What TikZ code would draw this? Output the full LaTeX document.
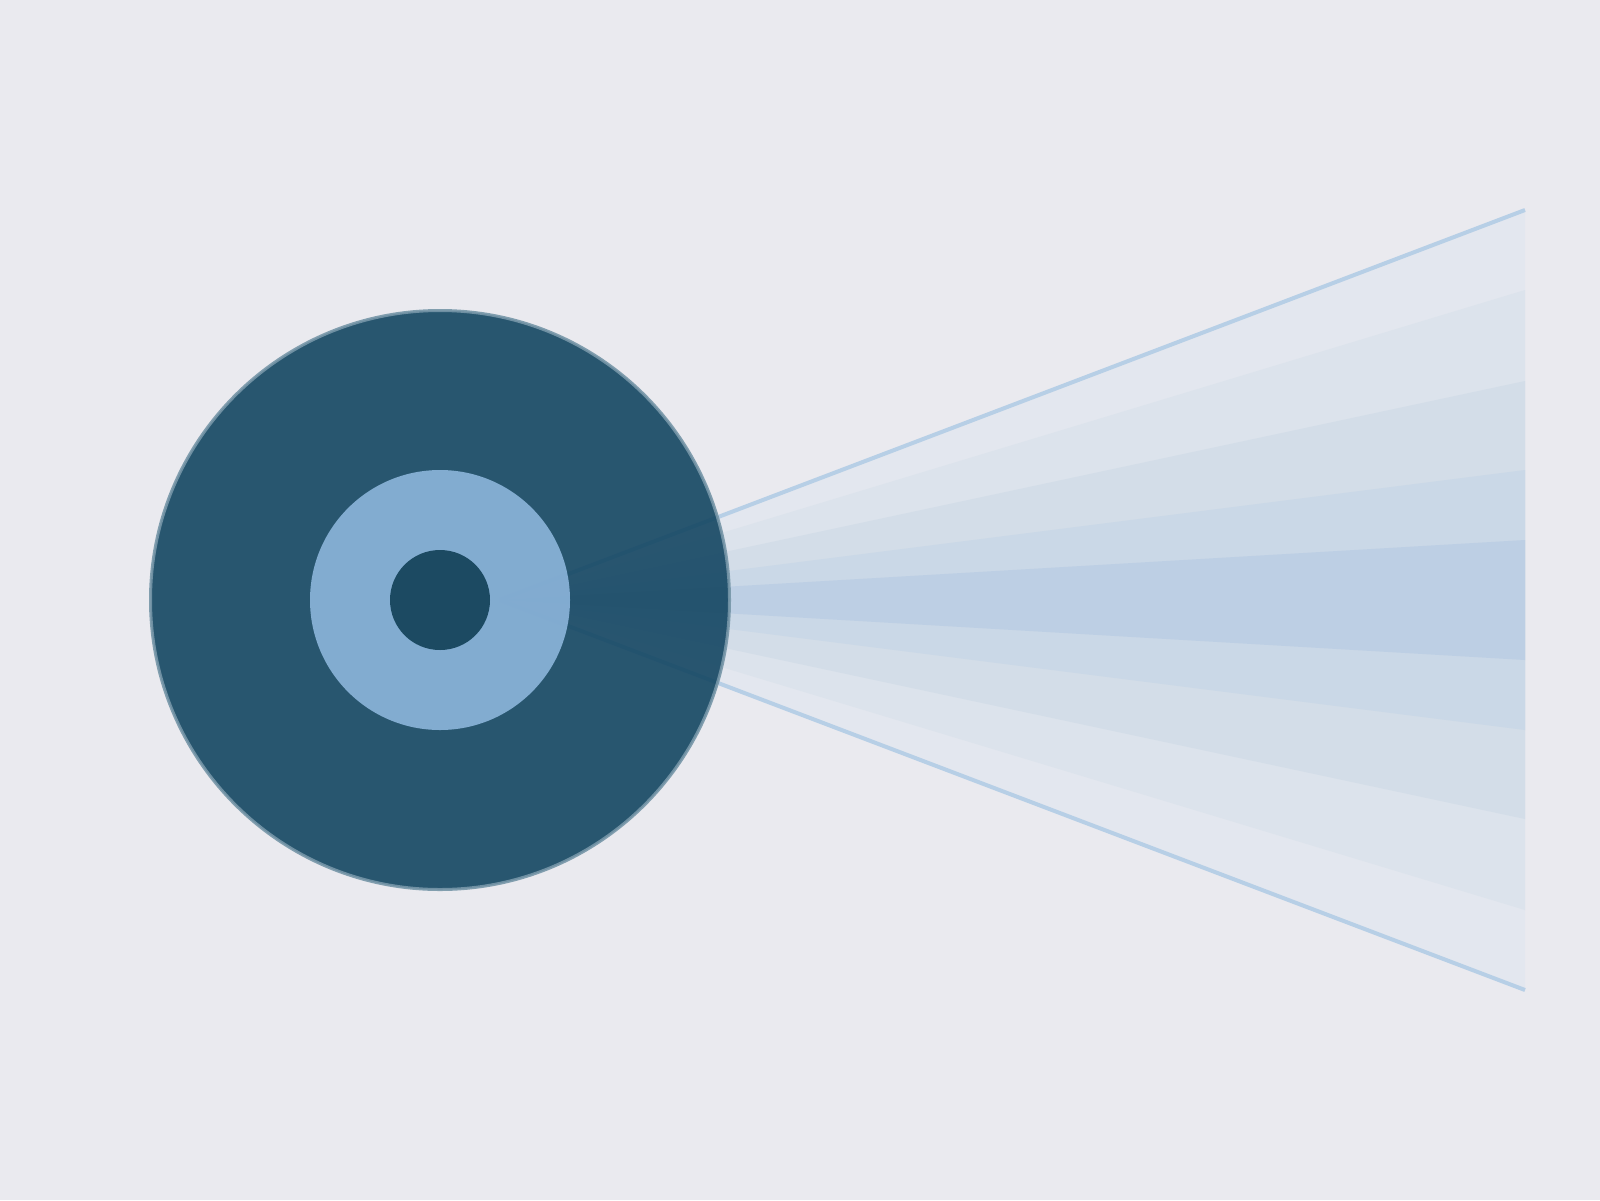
\documentclass[tikz,border=0pt]{standalone}
\definecolor{bgc}{RGB}{234,234,239}
\definecolor{bandA}{RGB}{227,231,239}
\definecolor{bandB}{RGB}{220,227,236}
\definecolor{bandC}{RGB}{211,221,232}
\definecolor{bandD}{RGB}{202,216,231}
\definecolor{bandE}{RGB}{189,207,228}
\definecolor{beamline}{RGB}{183,207,230}
\definecolor{bigfill}{RGB}{20,70,98}
\definecolor{bigedge}{RGB}{118,150,168}
\definecolor{midfill}{RGB}{143,184,222}
\definecolor{innerfill}{RGB}{28,74,98}
\begin{document}
\begin{tikzpicture}[x=1pt,y=-1pt,
  band/.style={fill=#1,draw=none},
  edgeline/.style={draw=beamline,line width=4pt},
  disc/.style={circle,inner sep=0pt,minimum size=#1,fill opacity=0.9,draw opacity=0.9}]
\useasboundingbox[fill=bgc] (0,0) rectangle (1600,1200);
\coordinate (apex) at (500,600);
\coordinate (t1) at (1525,210);
\coordinate (b1) at (1525,990);
\fill[band=bandA] (apex) -- (t1) -- (b1) -- cycle;
\fill[band=bandB] (apex) -- (1525,290) -- (1525,910) -- cycle;
\fill[band=bandC] (apex) -- (1525,381) -- (1525,819) -- cycle;
\fill[band=bandD] (apex) -- (1525,470) -- (1525,730) -- cycle;
\fill[band=bandE] (apex) -- (1525,540) -- (1525,660) -- cycle;
\draw[edgeline] (apex) -- (t1);
\draw[edgeline] (apex) -- (b1);
\node[disc=579pt,fill=bigfill,draw=bigedge,line width=3pt] (big) at (440,600) {};
\node[disc=260pt,fill=midfill,fill opacity=0.88] (mid) at (440,600) {};
\node[circle,inner sep=0pt,minimum size=100pt,fill=innerfill] (inner) at (440,600) {};
\end{tikzpicture}
\end{document}
